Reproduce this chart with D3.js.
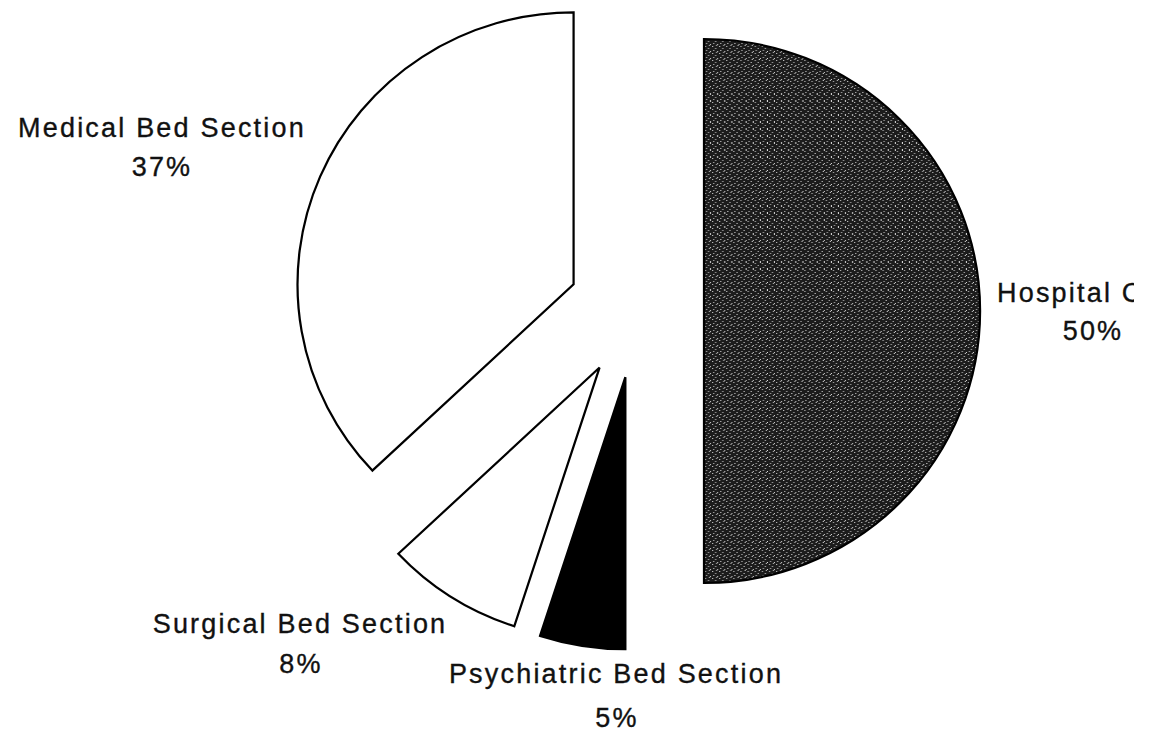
<!DOCTYPE html>
<html>
<head>
<meta charset="utf-8">
<script src="https://cdn.jsdelivr.net/npm/d3@7"></script>
<style>
  html, body { margin: 0; padding: 0; background: #fff; }
  svg { display: block; }
  text { font-family: "Liberation Sans", Arial, Helvetica, sans-serif; font-size: 27px; letter-spacing: 2.2px; fill: #111; stroke: #111; stroke-width: 0.35px; }
</style>
</head>
<body>
<svg id="chart" width="1150" height="736"></svg>
<script>
// ---- data ----
const categories = ["Hospital C", "Psychiatric Bed Section", "Surgical Bed Section", "Medical Bed Section"];
const values = [50, 5, 8, 37];
const valueLabels = ["50%", "5%", "8%", "37%"];

// ---- layout / style ----
const W = 1150, H = 736;
const cx = 636, cy = 311, R = 272, explode = 67, xStretch = 1.015;
const fills = ["url(#stipple)", "#000", "#fff", "#fff"];
const labelPos = [
  {x: 997, y: 302, anchor: "start", px: 1093, py: 340},
  {x: 616, y: 683, anchor: "middle", px: 617, py: 727},
  {x: 300, y: 633, anchor: "middle", px: 301, py: 673},
  {x: 162, y: 137, anchor: "middle", px: 162, py: 176}
];

const svg = d3.select("#chart");

const defs = svg.append("defs");
const pat = defs.append("pattern")
  .attr("id", "stipple").attr("patternUnits", "userSpaceOnUse")
  .attr("width", 7).attr("height", 7);
pat.append("rect").attr("width", 7).attr("height", 7).attr("fill", "#1c1c1c");
[[1,1],[4,3],[2,5],[6,6],[5,0]].forEach(([x, y]) =>
  pat.append("rect").attr("x", x).attr("y", y).attr("width", 1).attr("height", 1).attr("fill", "#d8d8d8"));
defs.append("clipPath").attr("id", "textclip")
  .append("rect").attr("x", 0).attr("y", 0).attr("width", 1134).attr("height", H);

const pie = d3.pie().sort(null).value(d => d)(values);
const arc = d3.arc().innerRadius(0).outerRadius(R);

const g = svg.append("g").attr("transform", `translate(${cx},${cy}) scale(${xStretch},1)`);
g.selectAll("path.slice")
  .data(pie)
  .join("path")
  .attr("class", "slice")
  .attr("transform", d => {
    const a = (d.startAngle + d.endAngle) / 2;
    return `translate(${explode * Math.sin(a)},${-explode * Math.cos(a)})`;
  })
  .attr("d", arc)
  .attr("fill", (d, i) => fills[i])
  .attr("stroke", "#000")
  .attr("stroke-width", 2.2)
  .attr("stroke-linejoin", "miter");

const lbl = svg.append("g").attr("clip-path", "url(#textclip)");
categories.forEach((c, i) => {
  const p = labelPos[i];
  lbl.append("text")
    .attr("x", p.x).attr("y", p.y)
    .attr("text-anchor", p.anchor)
    .text(c);
  lbl.append("text")
    .attr("x", p.px).attr("y", p.py)
    .attr("text-anchor", "middle")
    .text(valueLabels[i]);
});
</script>
</body>
</html>
